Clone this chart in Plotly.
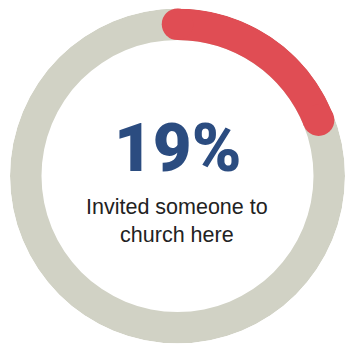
import plotly.graph_objects as go

# Data
share_pct = [19]
label_lines = ["Invited someone to", "church here"]

W, H = 345, 347
R_OUT = 167.5   # radial axis in pixel-like units
R_IN = 136.0
THICK = R_OUT - R_IN
R_MID = (R_OUT + R_IN) / 2

RED = "#e04d54"
GRAY = "#d1d2c5"
BLUE = "#2b4c80"

deg = [p * 3.6 for p in share_pct]

fig = go.Figure()

# background ring (100%)
fig.add_trace(go.Barpolar(
    r=[THICK], base=[R_IN], theta=[180], width=[360],
    marker=dict(color=GRAY, line=dict(width=0)),
    hoverinfo="skip", showlegend=False,
))

# highlighted share
fig.add_trace(go.Barpolar(
    r=[THICK], base=[R_IN], theta=[deg[0] / 2], width=[deg[0]],
    marker=dict(color=RED, line=dict(width=0)),
    hoverinfo="skip", showlegend=False,
))

# rounded caps on the arc
fig.add_trace(go.Scatterpolar(
    r=[R_MID, R_MID], theta=[0, deg[0]], mode="markers",
    marker=dict(color=RED, size=THICK, line=dict(width=0)),
    hoverinfo="skip", showlegend=False,
))

cx = 177.5
cy = 176.0
fig.update_layout(
    width=W, height=H,
    margin=dict(l=0, r=0, t=0, b=0),
    paper_bgcolor="white",
    plot_bgcolor="white",
    polar=dict(
        domain=dict(x=[(cx - R_OUT) / W, (cx + R_OUT) / W],
                    y=[(H - cy - R_OUT) / H, (H - cy + R_OUT) / H]),
        bgcolor="white",
        radialaxis=dict(range=[0, R_OUT], visible=False),
        angularaxis=dict(rotation=90, direction="clockwise", visible=False),
        bargap=0,
    ),
)

fig.add_annotation(
    x=cx / W, y=1 - 148 / H, xref="paper", yref="paper",
    text=f"{share_pct[0]}%", showarrow=False,
    xanchor="center", yanchor="middle",
    font=dict(family="Roboto, Liberation Sans, sans-serif", size=67,
              weight=900, color=BLUE),
)
fig.add_annotation(
    x=cx / W, y=1 - 221 / H, xref="paper", yref="paper",
    text="<br>".join(label_lines), showarrow=False,
    xanchor="center", yanchor="middle",
    font=dict(family="Liberation Sans, Arial, sans-serif", size=21.5, color="#222222"),
)

fig.write_html("out.html", config=dict(displayModeBar=False),
               post_script="document.body.style.margin='0';")
